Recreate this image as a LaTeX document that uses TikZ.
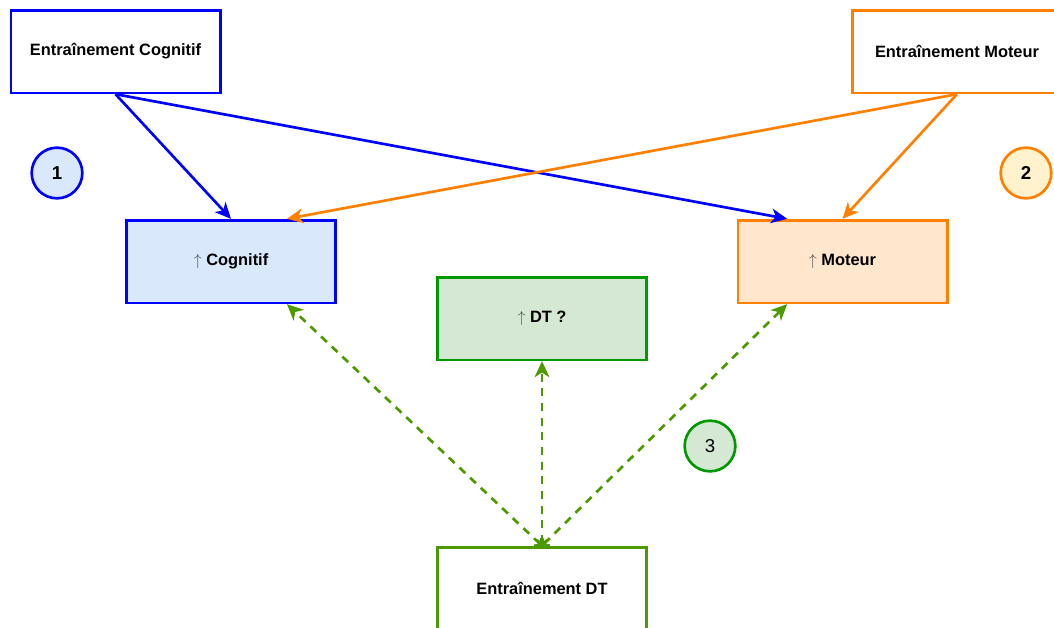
\documentclass[tikz,border=0pt]{standalone}
\usepackage{fontspec}
\setmainfont{Liberation Sans}
\usetikzlibrary{arrows.meta}
\definecolor{cblue}{HTML}{0000FF}
\definecolor{cogfill}{HTML}{DAE8FC}
\definecolor{corange}{HTML}{FF8000}
\definecolor{motfill}{HTML}{FFE6CC}
\definecolor{numfill}{HTML}{FFF2CC}
\definecolor{cgreen}{HTML}{009900}
\definecolor{dtfill}{HTML}{D5E8D4}
\definecolor{olive}{HTML}{4D9900}
\tikzset{
        box/.style={rectangle, draw, line width=2pt, minimum width=157pt, minimum height=62pt, inner sep=0pt, font=\bfseries\fontsize{12.3}{14}\selectfont},
        num/.style={circle, draw, line width=2pt, minimum size=38pt, inner sep=0pt, font=\bfseries\fontsize{14}{16}\selectfont},
        link/.style={line width=2pt, -{Stealth[length=12pt,width=11pt,inset=3.5pt]}},
        maybe/.style={line width=2pt, olive, dash pattern=on 6pt off 5pt, {Straight Barb[length=3pt,width=8pt]}-{Stealth[length=12pt,width=11pt,inset=3.5pt]}}
          }
\newcommand{\up}{{\color{black!70}$\uparrow$}\ }
\begin{document}
\begin{tikzpicture}[x=0.75pt, y=-0.75pt]
        \useasboundingbox (0,0) rectangle (1054,628);
        \fill[white] (0,0) rectangle (1054,628);
        % sources
        \node[box, draw=cblue, fill=white] (ec) at (115.5,51.5) {Entraînement Cognitif};
        \node[box, draw=corange, fill=white] (em) at (957,51.5) {Entraînement Moteur};
        \node[box, draw=olive, fill=white] (edt) at (542,588.5) {Entraînement DT};
        % effects
        \node[box, draw=cblue, fill=cogfill] (cog) at (231,261.5) {\up Cognitif};
        \node[box, draw=corange, fill=motfill] (mot) at (842.5,261.5) {\up Moteur};
        \node[box, draw=cgreen, fill=dtfill] (dtq) at (542,318.5) {\up DT ?};
        % numbers
        \node[num, draw=cblue, fill=cogfill] (n1) at (57,173) {1};
        \node[num, draw=corange, fill=numfill] (n2) at (1026,173) {2};
        \node[num, draw=cgreen, fill=dtfill, font=\fontsize{14}{16}\selectfont] (n3) at (710,446) {3};

        \draw[link, cblue] (ec.south) -- (cog.north);
        \draw[link, cblue] (ec.south) -- ([xshift=-41.5pt]mot.north);
        \draw[link, corange] (em.south) -- ([xshift=42pt]cog.north);
        \draw[link, corange] (em.south) -- (mot.north);

        \draw[maybe] (edt.north) -- ([xshift=42pt]cog.south);
        \draw[maybe] (edt.north) -- (dtq.south);
        \draw[maybe] (edt.north) -- ([xshift=-41.5pt]mot.south);
\end{tikzpicture}
\end{document}
